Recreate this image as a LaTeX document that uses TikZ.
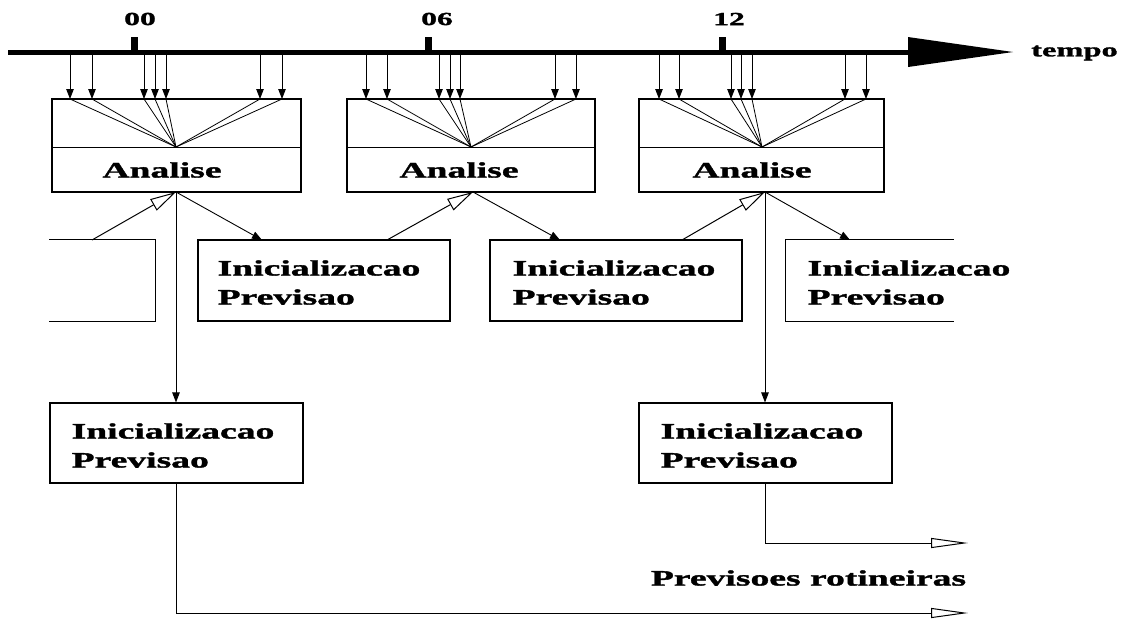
\documentclass[tikz,border=0pt]{standalone}
\usepackage{fontspec}
\setmainfont{Liberation Serif}[FakeStretch=1.71, BoldFeatures={FakeBold=1.6}]
\usetikzlibrary{arrows.meta,calc}
\begin{document}
\begin{tikzpicture}[x=1pt,y=-1pt,
  boxline/.style={line width=1.1pt},
  abox/.style={draw, boxline, minimum height=93pt, inner sep=0pt},
  pbox/.style={boxline, minimum width=252pt, minimum height=81pt, inner sep=0pt},
  lbox/.style={draw, boxline, minimum width=253pt, minimum height=80pt, inner sep=0pt},
  bt/.style={font=\fontsize{22}{29}\selectfont\bfseries, inner sep=0pt, align=left},
  lbl/.style={font=\fontsize{18.5}{20}\selectfont\bfseries, inner sep=0pt},
  thinl/.style={line width=0.8pt},
  darr/.style={line width=0.9pt, -{Triangle[length=10pt,width=7.5pt]}},
  hol/.style={line width=1pt, -{Triangle[open,length=26pt,width=13pt]}},
  holo/.style={line width=1pt, -{Triangle[open,length=37pt,width=10pt]}},
]
\useasboundingbox (0,0) rectangle (1133,622);

% time axis
\coordinate (ax0) at (8,52);
\coordinate (ax1) at (910,52);
\draw[line width=5pt] (ax0) -- (ax1);
\fill (908,37) -- (1013,52) -- (908,67) -- cycle;
\node[lbl, font=\fontsize{19}{20}\selectfont\bfseries, anchor=west] (tempo) at (1031,53) {tempo};

% ticks and labels
\fill (130.5,37) rectangle (137.5,52);
\fill (424.5,37) rectangle (431.5,52);
\fill (718.5,37) rectangle (725.5,52);
\node[lbl] (l00) at (140,19) {00};
\node[lbl] (l06) at (437,19) {06};
\node[lbl] (l12) at (729,19) {12};

% analysis boxes
\node[abox, minimum width=249pt] (a1) at (176.5,145.5) {};
\node[abox, minimum width=248pt] (a2) at (471,145.5) {};
\node[abox, minimum width=245pt] (a3) at (761.5,145.5) {};
\coordinate (c1) at (176,147);
\coordinate (c2) at (471,147);
\coordinate (c3) at (762,147);
\coordinate (b1) at (176,192);
\coordinate (b2) at (473,192);
\coordinate (b3) at (765,192);
\draw[thinl] (a1.west |- c1) -- (a1.east |- c1);
\draw[thinl] (a2.west |- c2) -- (a2.east |- c2);
\draw[thinl] (a3.west |- c3) -- (a3.east |- c3);
\node[bt] (a1t) at (162,170) {Analise};
\node[bt] (a2t) at (459,170) {Analise};
\node[bt] (a3t) at (752,170) {Analise};

% observation arrows
\foreach \x in {70,92,144,155,166,260,282} {
  \coordinate (ot) at (\x,54.5);
  \coordinate (oh) at (\x,99);
  \draw[darr] (ot) -- (oh);
  \draw[thinl] (oh) -- (c1);
}
\foreach \x in {366,387,439,450,460,555,576} {
  \coordinate (ot) at (\x,54.5);
  \coordinate (oh) at (\x,99);
  \draw[darr] (ot) -- (oh);
  \draw[thinl] (oh) -- (c2);
}
\foreach \x in {659,679,731,741,752,845,866} {
  \coordinate (ot) at (\x,54.5);
  \coordinate (oh) at (\x,99);
  \draw[darr] (ot) -- (oh);
  \draw[thinl] (oh) -- (c3);
}

% row of short forecasts
\node[pbox, minimum width=105pt] (p0) at (102.5,280.5) {};
\draw[boxline] (p0.north west) -- (p0.north east) -- (p0.south east) -- (p0.south west);
\node[pbox, draw] (p1) at (324,280.5) {};
\node[pbox, draw] (p2) at (616,280.5) {};
\node[pbox, minimum width=167pt] (p3) at (869.5,280.5) {};
\draw[boxline] (p3.north east) -- (p3.north west) -- (p3.south west) -- (p3.south east);
\node[bt, anchor=west] (p1t) at ($(p1.west)+(20,2)$) {Inicializacao\\Previsao};
\node[bt, anchor=west] (p2t) at ($(p2.west)+(23,2)$) {Inicializacao\\Previsao};
\node[bt, anchor=west] (p3t) at ($(p3.west)+(22,2)$) {Inicializacao\\Previsao};

\coordinate (p0o) at (92,240);
\coordinate (p1i) at (262,240);
\coordinate (p1o) at (387,240);
\coordinate (p2i) at (560,240);
\coordinate (p2o) at (682,240);
\coordinate (p3i) at (850,240);
\draw[hol] (p0o) -- (b1);
\draw[darr] (b1) -- (p1i);
\draw[hol] (p1o) -- (b2);
\draw[darr] (b2) -- (p2i);
\draw[hol] (p2o) -- (b3);
\draw[darr] (b3) -- (p3i);

% long forecasts
\node[lbox] (l1) at (176.5,443) {};
\node[lbox] (l2) at (765.5,443) {};
\node[bt, anchor=west] (l1t) at ($(l1.west)+(22,2.5)$) {Inicializacao\\Previsao};
\node[bt, anchor=west] (l2t) at ($(l2.west)+(22,2.5)$) {Inicializacao\\Previsao};
\draw[darr] (b1) -- (b1 |- l1.north);
\draw[darr] (b3) -- (b3 |- l2.north);

\coordinate (o1) at (968,613);
\coordinate (o2) at (968,543);
\draw[holo] (l1.south) |- (o1);
\draw[holo] (l2.south) |- (o2);
\node[bt] (prot) at (808.5,578) {Previsoes rotineiras};
\end{tikzpicture}
\end{document}
